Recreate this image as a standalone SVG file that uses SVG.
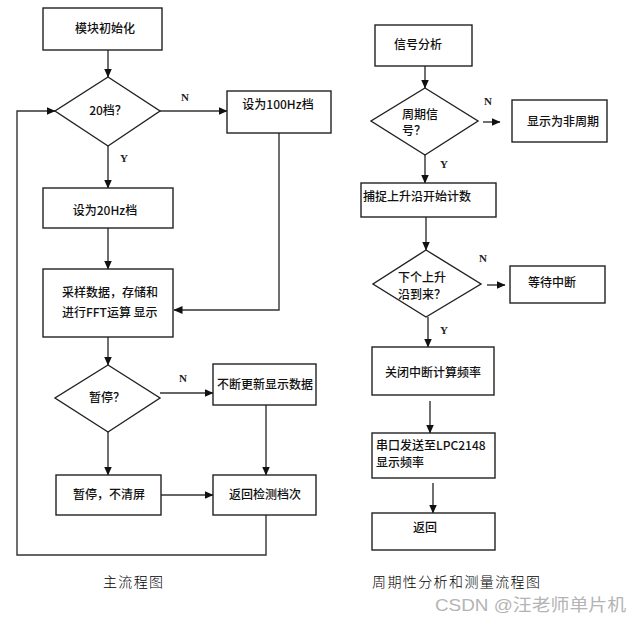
<svg xmlns="http://www.w3.org/2000/svg" width="641" height="620" viewBox="0 0 641 620">
<style>
.box{fill:#fff;stroke:#222;stroke-width:1.4}
.ln{fill:none;stroke:#333;stroke-width:1.4}
.t{font-family:"Noto Sans CJK SC","Liberation Sans",sans-serif;font-size:12px;fill:#111;font-weight:500}
.yn{font-family:"Liberation Serif","Noto Sans CJK SC",serif;font-size:11px;font-weight:bold;fill:#222}
.cap{font-family:"Noto Sans CJK SC","Liberation Sans",sans-serif;font-size:14px;fill:#000;font-weight:300}
</style>
<defs>
<marker id="ah" markerWidth="9" markerHeight="8" refX="8.5" refY="4" orient="auto" markerUnits="userSpaceOnUse">
<path d="M0,0 L9,4 L0,8 Z" fill="#111"/>
</marker>
</defs>
<rect width="641" height="620" fill="#fff"/>
<g id="connectors">
<path class="ln" d="M108,50 V77" marker-end="url(#ah)"/>
<path class="ln" d="M160,111 H227" marker-end="url(#ah)"/>
<path class="ln" d="M108,146 V188" marker-end="url(#ah)"/>
<path class="ln" d="M279,133 V310 H174" marker-end="url(#ah)"/>
<path class="ln" d="M108,228 V269" marker-end="url(#ah)"/>
<path class="ln" d="M108,337 V365" marker-end="url(#ah)"/>
<path class="ln" d="M160,393 H213" marker-end="url(#ah)"/>
<path class="ln" d="M266,405 V475" marker-end="url(#ah)"/>
<path class="ln" d="M108,432 V475" marker-end="url(#ah)"/>
<path class="ln" d="M161,495 H213" marker-end="url(#ah)"/>
<path class="ln" d="M266,515 V555 H17 V111 H55" marker-end="url(#ah)"/>
<path class="ln" d="M425,66 V88" marker-end="url(#ah)"/>
<path class="ln" d="M483,122 H500" marker-end="url(#ah)"/>
<path class="ln" d="M425,155 V183" marker-end="url(#ah)"/>
<path class="ln" d="M426,217 V250" marker-end="url(#ah)"/>
<path class="ln" d="M487,285 H505" marker-end="url(#ah)"/>
<path class="ln" d="M428,317 V347" marker-end="url(#ah)"/>
<path class="ln" d="M430,401 V433" marker-end="url(#ah)"/>
<path class="ln" d="M433,483 V513" marker-end="url(#ah)"/>
<text class="yn" x="181" y="101">N</text>
<text class="yn" x="120" y="162">Y</text>
<text class="yn" x="179" y="382">N</text>
<text class="yn" x="484" y="105">N</text>
<text class="yn" x="440" y="168">Y</text>
<text class="yn" x="479" y="262">N</text>
<text class="yn" x="440" y="334">Y</text>
</g>
<g id="n1"><rect class="box" x="43" y="8" width="119" height="42"/><text class="t" x="105" y="33" text-anchor="middle">模块初始化</text></g>
<g id="n2"><polygon class="box" points="108,77 160,111 108,146 55,111"/><text class="t" x="108" y="115" text-anchor="middle">20档？</text></g>
<g id="n3"><rect class="box" x="227" y="91" width="104" height="42"/><text class="t" x="278" y="109" text-anchor="middle">设为100Hz档</text></g>
<g id="n4"><rect class="box" x="43" y="188" width="130" height="40"/><text class="t" x="105" y="215" text-anchor="middle">设为20Hz档</text></g>
<g id="n5"><rect class="box" x="43" y="269" width="130" height="68"/><text class="t" x="62" y="297">采样数据，存储和</text><text class="t" x="62" y="317">进行FFT运算 显示</text></g>
<g id="n6"><polygon class="box" points="108,365 160,398 108,432 55,398"/><text class="t" x="107" y="402" text-anchor="middle">暂停？</text></g>
<g id="n7"><rect class="box" x="213" y="364" width="103" height="41"/><text class="t" x="265" y="389" text-anchor="middle">不断更新显示数据</text></g>
<g id="n8"><rect class="box" x="56" y="475" width="105" height="40"/><text class="t" x="109" y="499" text-anchor="middle">暂停，不清屏</text></g>
<g id="n9"><rect class="box" x="213" y="475" width="103" height="40"/><text class="t" x="265" y="499" text-anchor="middle">返回检测档次</text></g>
<g id="r1"><rect class="box" x="375" y="25" width="97" height="41"/><text class="t" x="394" y="49">信号分析</text></g>
<g id="r2"><polygon class="box" points="425,88 478,121 425,155 371,121"/><text class="t" x="402" y="119">周期信</text><text class="t" x="402" y="135">号？</text></g>
<g id="r3"><rect class="box" x="512" y="100" width="95" height="42"/><text class="t" x="527" y="126">显示为非周期</text></g>
<g id="r4"><rect class="box" x="361" y="183" width="135" height="34"/><text class="t" x="363" y="201">捕捉上升沿开始计数</text></g>
<g id="r5"><polygon class="box" points="426,250 481,284 426,317 373,284"/><text class="t" x="398" y="282">下个上升</text><text class="t" x="398" y="299">沿到来？</text></g>
<g id="r6"><rect class="box" x="510" y="266" width="95" height="37"/><text class="t" x="528" y="287">等待中断</text></g>
<g id="r7"><rect class="box" x="372" y="347" width="122" height="48"/><text class="t" x="385" y="377">关闭中断计算频率</text></g>
<g id="r8"><rect class="box" x="372" y="433" width="123" height="45"/><text class="t" x="376" y="450">串口发送至LPC2148</text><text class="t" x="376" y="467">显示频率</text></g>
<g id="r9"><rect class="box" x="372" y="513" width="123" height="37"/><text class="t" x="413" y="532">返回</text></g>
<text class="cap" x="103" y="587" textLength="60" lengthAdjust="spacing">主流程图</text>
<text class="cap" x="372" y="587" textLength="168" lengthAdjust="spacing">周期性分析和测量流程图</text>
<text x="435" y="611" font-family="'Liberation Sans','Noto Sans CJK SC',sans-serif" font-size="17" fill="#b4b4b4" textLength="191" lengthAdjust="spacingAndGlyphs">CSDN @汪老师单片机</text>
</svg>
